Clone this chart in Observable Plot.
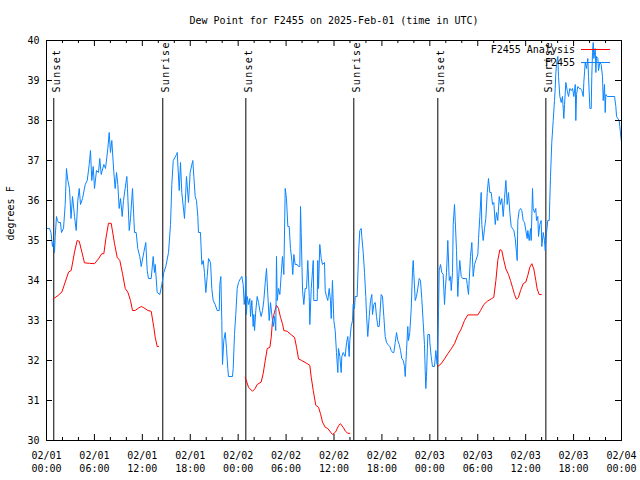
<!DOCTYPE html>
<html><head><meta charset="utf-8">
<script src="https://cdn.jsdelivr.net/npm/d3@7"></script>
<script src="https://cdn.jsdelivr.net/npm/@observablehq/plot@0.6"></script>
<style>body{margin:0;background:#fff}</style>
</head><body><div id="chart"></div>
<script>
// [hours since 2025-02-01 00:00 UTC, dew point °F]
const observed = [[0,35.3],[0.38,35.3],[0.56,35.2],[0.75,34.85],[0.88,35.0],[1.0,34.7],[1.09,35.1],[1.25,35.6],[1.38,35.5],[1.5,35.45],[1.75,35.45],[1.88,35.2],[2.13,35.3],[2.34,35.9],[2.5,36.8],[2.67,36.5],[2.88,36.3],[3.07,35.55],[3.26,36.1],[3.51,35.6],[3.72,35.25],[3.92,36.0],[4.1,36.3],[4.26,35.9],[4.51,36.05],[4.85,36.4],[5.1,36.5],[5.35,36.9],[5.51,37.25],[5.67,36.5],[5.85,36.85],[6.01,36.3],[6.26,36.75],[6.51,36.7],[6.67,37.05],[6.85,36.65],[7.18,36.9],[7.39,36.8],[7.68,37.3],[7.85,37.7],[8.01,37.2],[8.18,37.5],[8.43,36.7],[8.6,36.3],[8.77,36.7],[8.93,36.4],[9.1,35.8],[9.27,36.05],[9.48,35.6],[9.64,36.0],[10.06,36.6],[10.14,36.3],[10.36,35.25],[10.52,35.55],[10.77,36.3],[11.02,35.2],[11.23,35.2],[11.43,34.8],[11.68,34.6],[11.86,34.35],[12.18,34.7],[12.43,34.95],[12.61,34.25],[12.77,34.05],[13.11,34.05],[13.36,34.6],[13.52,34.2],[13.61,34.4],[13.86,33.7],[14.19,33.65],[14.44,33.9],[14.69,34.2],[14.94,34.35],[15.28,34.7],[15.53,35.4],[15.69,36.4],[15.87,37.0],[16.28,37.15],[16.37,37.2],[16.62,36.25],[16.78,36.95],[16.94,36.2],[17.28,35.55],[17.53,36.6],[17.78,35.95],[17.99,36.7],[18.2,36.9],[18.32,37.0],[18.45,36.6],[18.62,36.1],[18.78,36.0],[18.95,35.6],[19.03,35.2],[19.28,35.2],[19.45,34.4],[19.62,34.5],[19.78,34.2],[19.95,33.7],[20.12,34.1],[20.29,34.55],[20.54,34.45],[20.7,33.8],[20.87,33.5],[21.12,33.4],[21.37,33.25],[21.63,33.25],[21.7,33.9],[21.83,34.1],[21.95,33.0],[22.04,31.9],[22.2,32.5],[22.38,32.7],[22.54,32.3],[22.7,31.8],[22.79,31.6],[23.29,31.6],[23.38,31.8],[23.54,32.65],[23.7,33.15],[23.88,33.8],[24.04,33.95],[24.29,34.05],[24.46,34.1],[24.63,33.9],[24.76,33.4],[24.88,33.65],[24.96,34.1],[25.04,33.15],[25.13,33.6],[25.3,33.4],[25.46,33.55],[25.55,33.1],[25.71,33.5],[25.88,32.85],[25.96,33.15],[26.05,32.75],[26.21,33.25],[26.38,33.6],[26.55,33.45],[26.71,33.25],[26.88,33.1],[27.05,33.25],[27.21,33.5],[27.39,33.95],[27.55,34.3],[27.71,33.65],[27.89,33.0],[28.05,33.45],[28.21,33.15],[28.39,32.85],[28.55,33.1],[28.71,32.75],[28.8,34.6],[28.89,33.5],[29.05,33.8],[29.22,33.65],[29.39,34.15],[29.55,34.6],[29.72,34.15],[29.89,36.3],[30.05,36.05],[30.22,35.35],[30.39,35.35],[30.55,34.8],[30.72,34.5],[30.84,34.15],[30.97,34.65],[31.14,34.4],[31.39,34.4],[31.56,34.35],[31.72,34.35],[31.81,35.85],[31.89,35.2],[32.06,33.75],[32.22,33.4],[32.39,33.8],[32.56,33.8],[32.72,34.5],[32.9,33.6],[32.97,32.9],[33.15,33.8],[33.31,34.25],[33.4,34.5],[33.47,33.5],[33.9,33.5],[33.97,34.5],[34.06,33.8],[34.22,34.9],[34.4,34.55],[34.56,34.4],[34.81,34.45],[34.9,33.75],[35.06,33.6],[35.22,33.5],[35.4,33.8],[35.56,33.5],[35.65,33.05],[35.81,34.0],[35.98,33.0],[36.15,32.75],[36.31,32.2],[36.48,31.7],[36.56,32.3],[36.73,32.1],[36.9,31.7],[36.98,32.1],[37.15,32.2],[37.4,32.1],[37.57,32.45],[37.73,32.6],[37.9,32.1],[37.98,32.5],[38.15,32.85],[38.32,33.0],[38.4,33.4],[38.57,33.3],[38.65,33.6],[38.9,33.6],[39.07,34.65],[39.23,35.25],[39.41,35.3],[39.48,35.1],[39.66,34.7],[39.82,34.2],[39.98,33.6],[40.07,33.15],[40.23,32.6],[40.41,33.1],[40.57,33.5],[40.74,33.65],[40.82,33.15],[40.99,33.4],[41.16,33.45],[41.32,33.1],[41.49,32.85],[41.66,32.85],[41.91,33.65],[42.07,33.6],[42.24,33.1],[42.41,32.6],[42.58,32.45],[42.74,32.4],[42.99,32.35],[43.17,32.25],[43.33,32.2],[43.49,32.2],[43.67,32.45],[43.83,32.7],[43.99,32.5],[44.17,32.4],[44.33,32.25],[44.49,32.05],[44.67,32.0],[44.83,31.85],[44.92,31.6],[44.99,31.9],[45.08,32.25],[45.24,32.85],[45.33,32.5],[45.49,32.7],[45.67,33.3],[45.83,34.25],[45.92,34.5],[45.99,34.2],[46.17,33.5],[46.33,33.6],[46.49,33.8],[46.67,34.05],[46.83,34.0],[46.99,33.55],[47.17,32.95],[47.33,32.4],[47.42,31.75],[47.5,31.3],[47.58,31.6],[47.75,32.65],[47.96,32.65],[48.0,32.45],[48.17,32.1],[48.33,31.85],[48.59,31.85],[48.75,32.25],[48.92,31.9],[49.09,33.25],[49.17,34.25],[49.34,34.4],[49.5,34.2],[49.67,34.15],[49.84,33.4],[49.93,33.75],[50.09,34.2],[50.25,35.0],[50.43,34.0],[50.59,34.1],[50.68,33.75],[50.84,34.2],[50.93,35.4],[51.09,35.9],[51.18,35.5],[51.34,34.75],[51.5,33.6],[51.59,34.0],[51.75,34.5],[51.93,34.1],[52.09,34.05],[52.59,34.05],[52.68,33.9],[52.84,33.65],[52.93,34.0],[53.09,34.6],[53.26,34.95],[53.43,34.1],[53.6,34.4],[53.76,34.5],[54.01,34.65],[54.1,35.05],[54.26,35.6],[54.43,36.2],[54.51,35.4],[54.68,35.0],[54.85,35.3],[55.01,35.55],[55.19,36.2],[55.35,36.55],[55.51,36.2],[55.69,36.2],[55.85,35.9],[56.01,35.95],[56.19,35.4],[56.35,35.7],[56.51,35.5],[56.69,36.1],[56.85,35.9],[57.01,36.05],[57.19,35.6],[57.35,36.05],[57.52,36.5],[57.69,35.9],[57.85,36.2],[58.02,35.7],[58.19,35.35],[58.35,35.3],[58.52,35.25],[58.69,35.05],[58.85,34.7],[58.94,34.5],[59.02,35.5],[59.19,35.75],[59.36,35.8],[59.52,35.75],[59.69,35.5],[59.86,35.45],[60.02,35.25],[60.19,35.05],[60.27,35.25],[60.44,35.0],[60.61,35.3],[60.69,35.0],[60.86,36.3],[60.94,35.8],[61.11,35.7],[61.27,35.8],[61.36,35.5],[61.52,35.6],[61.61,35.1],[61.77,35.4],[61.94,35.5],[62.02,34.85],[62.2,35.2],[62.36,35.0],[62.45,34.75],[62.61,35.2],[62.77,35.5],[62.95,35.5],[63.02,36.0],[63.11,36.6],[63.27,37.45],[63.45,38.0],[63.61,38.5],[63.7,38.8],[63.77,39.15],[63.86,39.4],[64.03,39.6],[64.11,39.1],[64.28,38.6],[64.45,38.45],[64.61,38.6],[64.78,38.05],[64.87,38.4],[65.03,38.95],[65.2,38.75],[65.37,38.6],[65.53,38.8],[65.71,38.75],[65.87,38.8],[66.03,38.6],[66.21,38.9],[66.28,38.0],[66.37,38.65],[66.53,38.85],[66.71,38.8],[66.87,38.8],[67.03,38.75],[67.21,38.6],[67.28,38.95],[67.46,39.45],[67.62,39.3],[67.78,39.55],[67.87,39.1],[68.04,38.3],[68.21,38.3],[68.28,39.1],[68.37,39.7],[68.46,39.95],[68.53,39.55],[68.71,39.8],[68.79,39.2],[68.87,39.6],[69.04,39.55],[69.12,39.25],[69.29,39.45],[69.46,39.4],[69.62,39.1],[69.71,38.5],[69.87,38.9],[69.96,38.2],[70.04,38.65],[70.21,38.6],[71.13,38.6],[71.29,38.35],[71.38,38.1],[71.54,38.05],[71.71,38.0],[71.79,37.85],[71.97,37.5]];

const analysis1 = [[0.84,33.54],[1.41,33.62],[1.92,33.71],[2.34,33.96],[2.76,34.21],[3.09,34.25],[3.51,34.71],[3.84,35.0],[4.1,34.98],[4.43,34.71],[4.76,34.44],[5.39,34.43],[6.01,34.42],[6.51,34.54],[6.92,34.67],[7.18,34.67],[7.43,35.04],[7.76,35.43],[8.1,35.43],[8.52,34.92],[8.85,34.58],[9.18,34.5],[9.52,34.17],[9.86,33.8],[10.18,33.71],[10.52,33.5],[10.77,33.25],[11.11,33.25],[11.43,33.3],[11.86,33.35],[12.18,33.32],[12.69,33.25],[13.11,33.23],[13.44,32.83],[13.61,32.58],[13.86,32.35],[14.03,32.35]];
const analysis2 = [[24.88,31.58],[25.3,31.33],[25.8,31.23],[26.13,31.3],[26.38,31.4],[26.88,31.46],[27.13,31.67],[27.39,32.0],[27.64,32.3],[27.97,32.33],[28.14,32.58],[28.3,33.0],[28.55,33.21],[28.8,33.38],[29.05,33.3],[29.3,33.08],[29.55,32.92],[29.72,32.75],[30.14,32.73],[30.72,32.63],[31.06,32.58],[31.31,32.33],[31.56,32.04],[31.97,32.0],[32.65,31.92],[32.97,31.88],[33.15,31.58],[33.4,31.25],[33.72,30.88],[34.06,30.83],[34.31,30.67],[34.56,30.46],[34.9,30.33],[35.22,30.3],[35.56,30.21],[35.81,30.15],[36.19,30.21],[36.6,30.38],[36.81,30.42],[37.15,30.33],[37.44,30.23],[37.73,30.18],[37.98,30.18]];
const analysis3 = [[49.0,31.85],[49.42,31.92],[49.84,32.04],[50.25,32.17],[50.68,32.29],[51.09,32.42],[51.5,32.63],[51.93,32.79],[52.34,33.0],[52.75,33.14],[53.43,33.14],[54.01,33.14],[54.35,33.25],[54.76,33.4],[55.19,33.48],[55.69,33.54],[56.01,33.58],[56.27,34.0],[56.51,34.5],[56.77,34.77],[57.01,34.75],[57.27,34.5],[57.52,34.29],[57.85,34.15],[58.1,34.0],[58.35,33.83],[58.6,33.65],[58.85,33.53],[59.1,33.58],[59.36,33.75],[59.69,33.92],[60.02,33.96],[60.27,34.13],[60.52,34.33],[60.77,34.42],[61.02,34.29],[61.27,34.0],[61.44,33.79],[61.69,33.65],[61.94,33.65]];

const eventLabels = ["Sunset","Sunrise","Sunset","Sunrise","Sunset","Sunrise"];
const eventHours = [0.91,14.56,24.96,38.48,49.0,62.53];
const yTicks = [30,31,32,33,34,35,36,37,38,39,40];
const titleText = "Dew Point for F2455 on 2025-Feb-01 (time in UTC)";
const yLabel = "degrees F";
const seriesNames = ["F2455 Analysis","F2455"];
const seriesColors = ["#ff0000","#0a84ff"];

const t0 = Date.UTC(2025,1,1);
const toDate = h => new Date(t0 + h*3600e3);
const obsData = observed.map(([h,v]) => ({t: toDate(h), v}));
const anaData = [analysis1, analysis2, analysis3].flatMap((seg,i) => seg.map(([h,v]) => ({t: toDate(h), v, seg: i})));
const events = eventHours.map((h,i) => ({t: toDate(h), label: eventLabels[i]}));
const xDomain = [toDate(0), toDate(72)];
const majorTicks = d3.utcHour.every(6).range(xDomain[0], toDate(72.01));
const minorTicks = d3.utcHour.every(2).range(xDomain[0], toDate(72.01)).filter(d => d.getUTCHours() % 6 !== 0);

const mL = 46, mR = 19, mT = 40, mB = 40, W = 640, H = 480;
const fw = W - mL - mR, fh = H - mT - mB;

const chart = Plot.plot({
  width: W, height: H,
  marginLeft: mL, marginRight: mR, marginTop: mT, marginBottom: mB,
  style: {fontFamily: "DejaVu Sans Mono", fontSize: "10px", background: "white", color: "black", overflow: "visible"},
  x: {type: "utc", domain: xDomain},
  y: {domain: [30, 40]},
  marks: [
    Plot.ruleX(events, {x: "t", stroke: "black", strokeWidth: 1, insetTop: 58}),
    Plot.text(events, {x: "t", text: "label", frameAnchor: "top", rotate: -90, textAnchor: "start", dy: 52, dx: -1, fontSize: 10}),
    Plot.line(anaData, {x: "t", y: "v", z: "seg", stroke: seriesColors[0], strokeWidth: 1}),
    Plot.line(obsData, {x: "t", y: "v", stroke: seriesColors[1], strokeWidth: 1}),
    Plot.frame({stroke: "black", strokeWidth: 1}),
    Plot.tickY(yTicks, {y: d => d, insetRight: fw - 6, stroke: "black"}),
    Plot.tickY(yTicks, {y: d => d, insetLeft: fw - 6, stroke: "black"}),
    Plot.tickX(majorTicks, {x: d => d, insetTop: fh - 6, stroke: "black"}),
    Plot.tickX(majorTicks, {x: d => d, insetBottom: fh - 6, stroke: "black"}),
    Plot.tickX(minorTicks, {x: d => d, insetTop: fh - 3, stroke: "black"}),
    Plot.tickX(minorTicks, {x: d => d, insetBottom: fh - 3, stroke: "black"}),
    Plot.axisY({ticks: yTicks, tickSize: 0, tickPadding: 7, label: null, tickFormat: d => String(d)}),
    Plot.axisX({ticks: majorTicks, tickSize: 0, tickPadding: 9, label: null, tickFormat: d3.utcFormat("%m/%d\n%H:%M"), lineHeight: 1.3}),
    Plot.text([yLabel], {frameAnchor: "left", rotate: -90, dx: -36, fontSize: 10}),
    Plot.text([titleText], {frameAnchor: "top", dy: -24, fontSize: 10})
  ]
});

const svg = d3.select(chart);
svg.selectAll("text").filter(function() { return eventLabels.includes(this.textContent); })
  .style("letter-spacing", "1.3px");
const leg = svg.append("g").attr("font-family", "DejaVu Sans Mono").attr("font-size", 10);
seriesNames.forEach((name, i) => {
  const y = 49.5 + i * 13;
  leg.append("text").attr("x", 575).attr("y", y).attr("dy", "0.32em").attr("text-anchor", "end").attr("fill", "black").text(name);
  leg.append("line").attr("x1", 581).attr("x2", 610).attr("y1", y).attr("y2", y).attr("stroke", seriesColors[i]).attr("stroke-width", 1);
});
document.getElementById("chart").appendChild(chart);
</script>
</body></html>
